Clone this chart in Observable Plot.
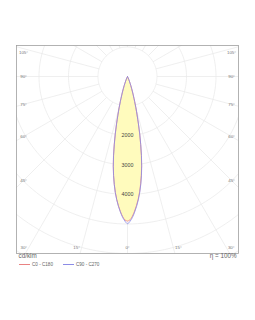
<!DOCTYPE html>
<html>
<head>
<meta charset="utf-8">
<script src="https://cdn.jsdelivr.net/npm/d3@7"></script>
<script src="https://cdn.jsdelivr.net/npm/@observablehq/plot@0.6"></script>
<style>
  body { margin: 0; background: #fff; font-family: "Liberation Sans", Arial, sans-serif; }
  #chart svg { display: block; }
  .legend { height: 10px; padding-left: 19px; font-size: 4.6px; color: #666; line-height: 8px; white-space: nowrap; }
  .sw { display: inline-block; width: 11px; height: 0; vertical-align: middle; margin-right: 2px; }
  .item { display: inline-block; margin-right: 10px; }
</style>
</head>
<body>
<div id="chart"></div>
<script>
// Gamma angles (degrees) and luminous intensity (cd/klm)
const gamma = [0, 1, 2, 3, 4, 5, 6, 7, 8, 9, 10, 11, 12, 13, 14, 15, 16, 17, 18, 20, 22, 25, 30];
const c0   = [4900, 4860, 4740, 4570, 4380, 4170, 3930, 3660, 3370, 3060, 2710, 2340, 1990, 1650, 1340, 1100, 880, 695, 555, 330, 170, 50, 0];
const c180 = [4900, 4865, 4750, 4585, 4395, 4185, 3950, 3680, 3395, 3085, 2735, 2365, 2010, 1670, 1360, 1110, 890, 700, 560, 335, 170, 50, 0];
const c90  = [4990, 4910, 4780, 4605, 4415, 4200, 3960, 3690, 3395, 3080, 2725, 2350, 1995, 1650, 1340, 1095, 875, 690, 550, 325, 165, 48, 0];
const c270 = [4990, 4905, 4775, 4600, 4410, 4195, 3955, 3685, 3390, 3075, 2720, 2345, 1990, 1645, 1335, 1090, 870, 685, 548, 322, 163, 47, 0];
const ringValues = [1000, 2000, 3000, 4000, 5000, 6000, 7000];
const intensityLabels = [2000, 3000, 4000];
const angleLabels = [105, 90, 75, 60, 45, 30, 15, 0];
const unitLabel = "cd/klm";
const etaLabel = "η = 100%";
const seriesNames = ["C0 - C180", "C90 - C270"];
const seriesColors = ["#e98282", "#8c8ce6"];

const rad = d => d * Math.PI / 180;
function curve(right, left) {
  const pts = [];
  for (let i = gamma.length - 1; i >= 0; i--) pts.push({x: -left[i] * Math.sin(rad(gamma[i])), y: -left[i] * Math.cos(rad(gamma[i]))});
  for (let i = 1; i < gamma.length; i++) pts.push({x: right[i] * Math.sin(rad(gamma[i])), y: -right[i] * Math.cos(rad(gamma[i]))});
  return pts;
}
const redCurve = curve(c0, c180);
const blueCurve = curve(c90, c270);

// grid
const rings = [];
for (const r of ringValues) for (let a = 0; a <= 360; a += 2) rings.push({r, x: r * Math.sin(rad(a)), y: -r * Math.cos(rad(a))});
const spokes = [];
for (let a = 0; a < 360; a += 15) spokes.push({x1: 1000 * Math.sin(rad(a)), y1: -1000 * Math.cos(rad(a)), x2: 9000 * Math.sin(rad(a)), y2: -9000 * Math.cos(rad(a))});

// angle labels near the frame edges
const pxPerUnit = 29.5 / 1000;
const sideX = 104 / pxPerUnit, bottomY = -171 / pxPerUnit, topClamp = 23.5 / pxPerUnit, shift = 5 / pxPerUnit;
const angleText = [];
for (const a of angleLabels) {
  for (const s of (a === 0 ? [1] : [-1, 1])) {
    let x, y;
    if (a >= 45) { x = s * sideX; y = Math.min(-sideX / Math.tan(rad(a)), topClamp); if (a === 90) y = 0; }
    else { y = bottomY; x = s * (-bottomY * Math.tan(rad(a)) + (a === 0 ? 0 : shift)); }
    angleText.push({x, y, t: a + "°"});
  }
}

const chart = Plot.plot({
  width: 255, height: 261,
  marginLeft: 16, marginRight: 17, marginTop: 45, marginBottom: 8,
  x: {domain: [-111 / pxPerUnit, 111 / pxPerUnit], axis: null},
  y: {domain: [-208 / pxPerUnit + 1051, 1051], axis: null},
  style: {fontFamily: "Liberation Sans, Arial, sans-serif", background: "#fff"},
  marks: [
    Plot.line(rings, {x: "x", y: "y", z: "r", stroke: "#e8e8e8", strokeWidth: 0.7, clip: true}),
    Plot.link(spokes, {x1: "x1", y1: "y1", x2: "x2", y2: "y2", stroke: "#e8e8e8", strokeWidth: 0.7, clip: true}),
    Plot.line(redCurve, {x: "x", y: "y", fill: "#fffbbd", stroke: "none", curve: "catmull-rom"}),
    Plot.line(redCurve, {x: "x", y: "y", stroke: seriesColors[0], strokeWidth: 0.8, curve: "catmull-rom"}),
    Plot.line(blueCurve, {x: "x", y: "y", stroke: seriesColors[1], strokeWidth: 0.8, curve: "catmull-rom"}),
    Plot.text(intensityLabels, {x: 0, y: d => -d, text: d => String(d), fontSize: 5.3, fill: "#444"}),
    Plot.text(angleText, {x: "x", y: "y", text: "t", fontSize: 4.4, fill: "#777"}),
    Plot.frame({stroke: "#a0a0a0", strokeWidth: 0.8}),
    Plot.text([unitLabel], {frameAnchor: "bottom-left", dx: 2, dy: 4.5, textAnchor: "start", fontSize: 6.3, fill: "#666"}),
    Plot.text([etaLabel], {frameAnchor: "bottom-right", dx: -2, dy: 4.5, textAnchor: "end", fontSize: 6.3, fill: "#666"})
  ]
});
document.getElementById("chart").appendChild(chart);

const leg = document.createElement("div");
leg.className = "legend";
seriesNames.forEach((n, i) => {
  const it = document.createElement("span");
  it.className = "item";
  const sw = document.createElement("span");
  sw.className = "sw";
  sw.style.borderTop = "0.8px solid " + seriesColors[i];
  it.appendChild(sw);
  it.appendChild(document.createTextNode(n));
  leg.appendChild(it);
});
document.body.appendChild(leg);
</script>
</body>
</html>
